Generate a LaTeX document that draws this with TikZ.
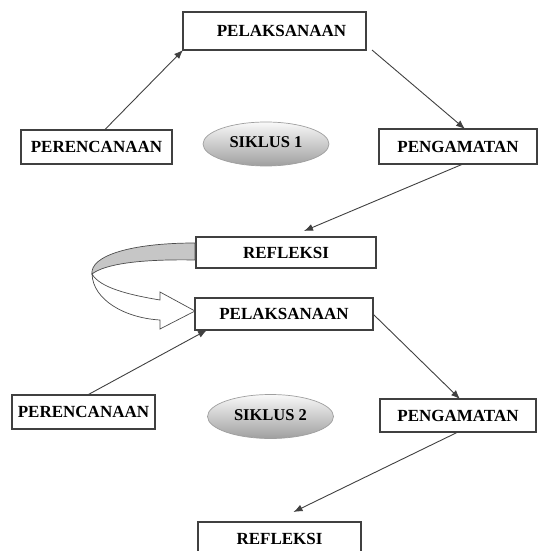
\documentclass[tikz,border=0pt]{standalone}
\usepackage{fontspec}
\setmainfont{Liberation Serif}
\usetikzlibrary{shapes.geometric}
\usetikzlibrary{arrows.meta}

\begin{document}
\begin{tikzpicture}[x=1pt,y=-1pt,
	kotak/.style={draw=black!75, line width=1.1pt, inner sep=0pt, outer sep=0pt, font=\fontsize{17}{19}\selectfont\bfseries},
	siklus/.style={ellipse, draw=gray!75, line width=0.7pt, top color=gray!5, bottom color=gray!75, inner sep=0pt, minimum width=126pt, minimum height=44pt, font=\fontsize{16.5}{18}\selectfont\bfseries},
	panah/.style={-{Latex[length=9pt,width=7pt]}, draw=black!75, line width=0.9pt}]
	\useasboundingbox (0,0) rectangle (542,551);
	% siklus 1
	\node[kotak, minimum width=183pt, minimum height=38pt] (pel1) at (274.5,31) {\hspace*{14pt}PELAKSANAAN};
	\node[kotak, minimum width=151pt, minimum height=34pt] (per1) at (96.5,147) {PERENCANAAN};
	\node[siklus] (sik1) at (266,144) {\raisebox{3pt}{SIKLUS 1}};
	\node[kotak, minimum width=158pt, minimum height=35pt] (pen1) at (458,146.5) {PENGAMATAN};
	\node[kotak, minimum width=180pt, minimum height=31pt] (ref1) at (286,252.5) {REFLEKSI};
	\draw[panah] ([xshift=8pt]per1.north) -- (pel1.south west);
	\draw[panah] ([xshift=6pt]pel1.south east) -- ([xshift=7pt]pen1.north);
	\draw[panah] ([xshift=5pt]pen1.south) -- ([xshift=18pt,yshift=6pt]ref1.north);
	% panah lengkung
	\draw[draw=black!70, line width=0.7pt, fill=gray!45]
		(195,243) .. controls (130,243) and (90,256) .. (92,274)
		.. controls (105,264) and (140,259) .. (195,260) -- cycle;
	\draw[draw=black!70, line width=0.7pt, fill=white]
		(92,274) .. controls (93,300) and (125,318) .. (160,320)
		-- (160,329) -- (195,311) -- (160,292) -- (160,300)
		.. controls (130,295) and (100,288) .. (92,274) -- cycle;
	% siklus 2
	\node[kotak, minimum width=178pt, minimum height=32pt] (pel2) at (284,314) {PELAKSANAAN};
	\node[kotak, minimum width=143pt, minimum height=34pt] (per2) at (83.5,412) {PERENCANAAN};
	\node[siklus] (sik2) at (270.5,416.5) {\raisebox{3pt}{SIKLUS 2}};
	\node[kotak, minimum width=156pt, minimum height=33pt] (pen2) at (458,415.5) {PENGAMATAN};
	\node[kotak, minimum width=163pt, minimum height=34pt] (ref2) at (279.5,539) {REFLEKSI};
	\draw[panah] ([xshift=4pt]per2.north) -- ([xshift=12pt]pel2.south west);
	\draw[panah] (pel2.east) -- ([xshift=2pt]pen2.north);
	\draw[panah] (pen2.south) -- ([xshift=14pt,yshift=10pt]ref2.north);
\end{tikzpicture}
\end{document}
